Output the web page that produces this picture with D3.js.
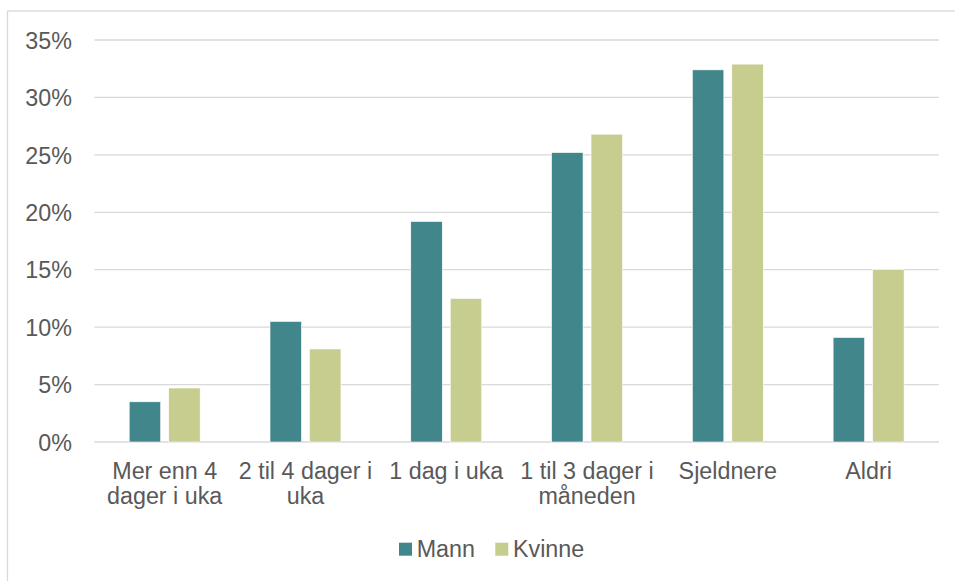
<!DOCTYPE html>
<html>
<head>
<meta charset="utf-8">
<script src="https://cdn.jsdelivr.net/npm/d3@7"></script>
<style>
  html, body { margin: 0; padding: 0; background: #fff; }
  svg { display: block; }
  text { font-family: "Liberation Sans", Arial, sans-serif; fill: #595959; }
</style>
</head>
<body>
<svg id="chart" width="955" height="581"></svg>
<script>
// Hvor ofte: andel menn og kvinner per kategori
const categories = ["Mer enn 4 dager i uka", "2 til 4 dager i uka", "1 dag i uka",
                    "1 til 3 dager i måneden", "Sjeldnere", "Aldri"];
const categoryLines = [["Mer enn 4", "dager i uka"], ["2 til 4 dager i", "uka"], ["1 dag i uka"],
                       ["1 til 3 dager i", "måneden"], ["Sjeldnere"], ["Aldri"]];
const seriesNames = ["Mann", "Kvinne"];
const mann   = [3.5, 10.5, 19.2, 25.2, 32.4, 9.1];
const kvinne = [4.7, 8.1, 12.5, 26.8, 32.9, 15.0];
const yTicks = [0, 5, 10, 15, 20, 25, 30, 35];
const colors = ["#40868A", "#C7CD8E"];

const svg = d3.select("#chart");
const fontSize = 23.3;

// Outer chart frame (extends past the right and bottom edges)
svg.append("rect")
  .attr("x", 7.5).attr("y", 11)
  .attr("width", 1000).attr("height", 700)
  .attr("fill", "none").attr("stroke", "#D9D9D9").attr("stroke-width", 1.3);

const plotLeft = 94.3, plotRight = 939, plotTop = 40, plotBottom = 442;

const y = d3.scaleLinear().domain([0, 35]).range([plotBottom, plotTop]);
const x0 = d3.scaleBand().domain(categories).range([plotLeft, plotRight])
  .paddingInner(0.496).paddingOuter(0.248);
const x1 = d3.scaleBand().domain(seriesNames).range([0, x0.bandwidth()])
  .paddingInner(0.2025);

// Gridlines
svg.append("g").selectAll("line").data(yTicks).join("line")
  .attr("x1", plotLeft).attr("x2", plotRight)
  .attr("y1", d => y(d)).attr("y2", d => y(d))
  .attr("stroke", "#D9D9D9").attr("stroke-width", 1.3);

// Y axis labels
const yAxis = d3.axisLeft(y).tickValues(yTicks).tickFormat(d => d + "%").tickSize(0).tickPadding(0);
const gy = svg.append("g").attr("transform", "translate(72,0)").call(yAxis);
gy.select(".domain").remove();
gy.selectAll("text")
  .attr("font-size", fontSize)
  .attr("font-family", "Liberation Sans, Arial, sans-serif")
  .attr("fill", "#595959")
  .attr("dy", "0.35em");

// Bars
const rows = categories.map((c, i) => ({ cat: c, values: [mann[i], kvinne[i]] }));
const groups = svg.append("g").selectAll("g").data(rows).join("g")
  .attr("transform", d => `translate(${x0(d.cat)},0)`);
groups.selectAll("rect")
  .data(d => d.values.map((v, j) => ({ name: seriesNames[j], v, j })))
  .join("rect")
  .attr("x", d => x1(d.name))
  .attr("width", x1.bandwidth())
  .attr("y", d => y(d.v))
  .attr("height", d => y(0) - y(d.v))
  .attr("fill", d => colors[d.j])
  .attr("stroke", "#ffffff").attr("stroke-width", 0.6);

// Category labels
const labels = svg.append("g").selectAll("text").data(categories).join("text")
  .attr("text-anchor", "middle")
  .attr("font-size", fontSize)
  .attr("x", d => x0(d) + x0.bandwidth() / 2)
  .attr("y", plotBottom + 37.3);
labels.each(function(d, i) {
  d3.select(this).selectAll("tspan").data(categoryLines[i]).join("tspan")
    .attr("x", x0(d) + x0.bandwidth() / 2)
    .attr("dy", (t, k) => k === 0 ? 0 : 25)
    .text(t => t);
});

// Legend
const legend = svg.append("g");
let lx = 399;
seriesNames.forEach((name, j) => {
  legend.append("rect")
    .attr("x", lx).attr("y", 542.7).attr("width", 13).attr("height", 13)
    .attr("fill", colors[j]);
  const t = legend.append("text")
    .attr("x", lx + 17.7).attr("y", 556.7)
    .attr("font-size", fontSize)
    .text(name);
  lx += 17.7 + t.node().getComputedTextLength() + 20.3;
});
</script>
</body>
</html>
